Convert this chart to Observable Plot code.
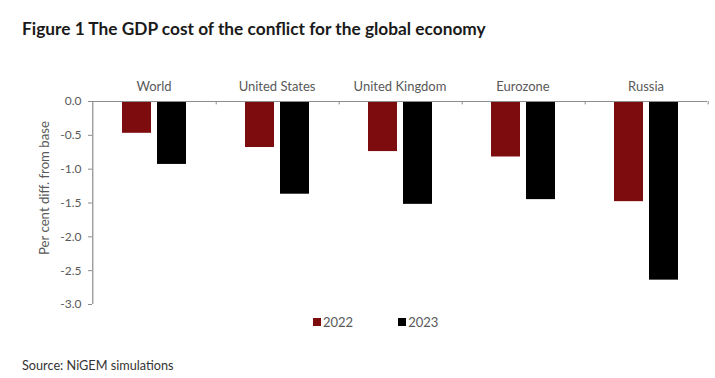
<!DOCTYPE html>
<html><head><meta charset="utf-8">
<script src="https://cdn.jsdelivr.net/npm/d3@7"></script>
<script src="https://cdn.jsdelivr.net/npm/@observablehq/plot@0.6"></script>
<style>
body{margin:0;background:#fff;font-family:Lato,"Open Sans",sans-serif;}
#wrap{position:relative;width:715px;height:378px;overflow:hidden;}
#title{position:absolute;left:22px;top:18px;font-weight:bold;font-size:17.3px;color:#1a1a1a;white-space:nowrap;}
#chart{position:absolute;left:0;top:50px;}
#ylabel{position:absolute;left:44px;top:188px;transform:translate(-50%,-50%) rotate(-90deg);font-size:13.2px;color:#595959;white-space:nowrap;}
#legend{position:absolute;left:313px;top:314px;display:flex;align-items:center;font-size:13px;color:#595959;}
#legend .item{display:flex;align-items:center;}
#legend .sw{width:8px;height:8px;margin-right:2px;}
#caption{position:absolute;left:22px;top:357px;font-size:12.7px;color:#333;white-space:nowrap;}
</style></head>
<body>
<div id="wrap">
  <div id="title"></div>
  <div id="chart"></div>
  <div id="ylabel"></div>
  <div id="legend"></div>
  <div id="caption"></div>
</div>
<script>
const titleText = "Figure 1 The GDP cost of the conflict for the global economy";
const yLabel = "Per cent diff. from base";
const sourceText = "Source: NiGEM simulations";
const regions = ["World", "United States", "United Kingdom", "Eurozone", "Russia"];
const years = ["2022", "2023"];
const values2022 = [-0.47, -0.68, -0.74, -0.82, -1.48];
const values2023 = [-0.93, -1.37, -1.52, -1.45, -2.64];
const yTicks = [0, -0.5, -1, -1.5, -2, -2.5, -3];
const colors = ["#7d0c0e", "#000000"];

const data = [];
regions.forEach((r, i) => {
  data.push({region: r, year: years[0], value: values2022[i]});
  data.push({region: r, year: years[1], value: values2023[i]});
});

document.getElementById("title").textContent = titleText;
document.getElementById("ylabel").textContent = yLabel;
document.getElementById("caption").textContent = sourceText;

const legend = document.getElementById("legend");
years.forEach((y, i) => {
  const it = document.createElement("div");
  it.className = "item";
  if (i > 0) it.style.marginLeft = "45px";
  const sw = document.createElement("div");
  sw.className = "sw";
  sw.style.background = colors[i];
  const tx = document.createElement("span");
  tx.textContent = y;
  it.appendChild(sw); it.appendChild(tx);
  legend.appendChild(it);
});

const W = 715, ML = 90, MR = 6;
const pIn = 0.18, pOut = 0.84;
const fxStep = (W - ML - MR) / regions.length;
const xStep = fxStep / (years.length - pIn + 2 * pOut);
const bw = xStep * (1 - pIn);
const edgeOff = xStep * pOut + bw / 2;

const grey = "#8c8c8c";
const chart = Plot.plot({
  width: W, height: 262,
  marginLeft: ML, marginRight: MR, marginTop: 51, marginBottom: 8,
  style: {fontFamily: "Lato, sans-serif", background: "transparent"},
  fx: {domain: regions, padding: 0, label: null},
  x: {domain: years, paddingInner: pIn, paddingOuter: pOut, axis: null},
  y: {domain: [-3, 0]},
  color: {domain: years, range: colors},
  marks: [
    Plot.axisFx({anchor: "top", tickSize: 0, tickPadding: 11, label: null, fontSize: 13, color: "#595959"}),
    Plot.axisY({ticks: yTicks, tickSize: 4, tickPadding: 7, tickFormat: d => d.toFixed(1), label: null, fontSize: 12, color: "#595959", stroke: grey}),
    Plot.barY(data, {fx: "region", x: "year", y: "value", fill: "year"}),
    Plot.ruleY([0], {stroke: grey, strokeWidth: 1.2}),
    Plot.ruleX([{region: regions[0]}], {fx: "region", x: () => years[0], y1: 0, y2: -3, dx: -edgeOff, stroke: grey, strokeWidth: 1.2}),
    Plot.ruleX(regions.map(r => ({region: r})), {fx: "region", x: () => years[1], y1: 0, y2: -0.05, dx: edgeOff, stroke: grey})
  ]
});
document.getElementById("chart").appendChild(chart);
</script>
</body></html>
